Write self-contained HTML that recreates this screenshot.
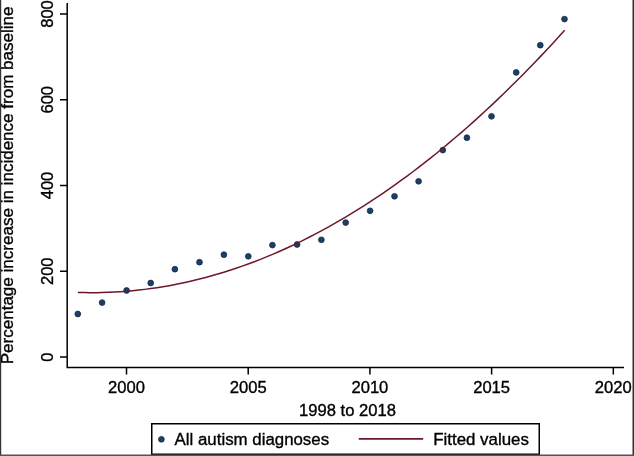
<!DOCTYPE html>
<html><head><meta charset="utf-8"><style>
html,body{margin:0;padding:0;background:#fff;}
body{width:634px;height:456px;overflow:hidden;position:relative;}
svg{position:absolute;left:0;top:0;will-change:transform;}
text{font-family:"Liberation Sans",sans-serif;fill:#000;stroke:#000;stroke-width:0.35px;}
</style></head><body>
<svg width="634" height="456" viewBox="0 0 634 456">
<rect x="0" y="0" width="634" height="456" fill="#fff"/>
<g stroke="#000" stroke-width="1.5" fill="none">
<polyline points="67.2,3 67.2,367.5 624,367.5"/>
<line x1="60" y1="357.00" x2="67" y2="357.00"/><line x1="60" y1="271.25" x2="67" y2="271.25"/><line x1="60" y1="185.50" x2="67" y2="185.50"/><line x1="60" y1="99.75" x2="67" y2="99.75"/><line x1="60" y1="14.00" x2="67" y2="14.00"/>
<line x1="126.50" y1="367" x2="126.50" y2="374.5"/><line x1="248.21" y1="367" x2="248.21" y2="374.5"/><line x1="369.91" y1="367" x2="369.91" y2="374.5"/><line x1="491.62" y1="367" x2="491.62" y2="374.5"/><line x1="613.32" y1="367" x2="613.32" y2="374.5"/>
</g>
<g font-size="16.6">
<text x="53" y="357.00" transform="rotate(-90 53 357.00)" text-anchor="middle">0</text><text x="53" y="271.25" transform="rotate(-90 53 271.25)" text-anchor="middle">200</text><text x="53" y="185.50" transform="rotate(-90 53 185.50)" text-anchor="middle">400</text><text x="53" y="99.75" transform="rotate(-90 53 99.75)" text-anchor="middle">600</text><text x="53" y="14.00" transform="rotate(-90 53 14.00)" text-anchor="middle">800</text>
<text x="126.50" y="393" text-anchor="middle">2000</text><text x="248.21" y="393" text-anchor="middle">2005</text><text x="369.91" y="393" text-anchor="middle">2010</text><text x="491.62" y="393" text-anchor="middle">2015</text><text x="613.32" y="393" text-anchor="middle">2020</text>
<text x="347.5" y="416" text-anchor="middle">1998 to 2018</text>
<text x="13.2" y="364.3" transform="rotate(-90 13.2 364.3)" font-size="17.05">Percentage increase in incidence from baseline</text>
</g>
<circle cx="77.8" cy="314.0" r="2.9" fill="#1d3f66" stroke="#122a48" stroke-width="0.75"/>
<circle cx="102.1" cy="302.6" r="2.9" fill="#1d3f66" stroke="#122a48" stroke-width="0.75"/>
<circle cx="126.6" cy="290.5" r="2.9" fill="#1d3f66" stroke="#122a48" stroke-width="0.75"/>
<circle cx="150.7" cy="283.0" r="2.9" fill="#1d3f66" stroke="#122a48" stroke-width="0.75"/>
<circle cx="174.9" cy="269.2" r="2.9" fill="#1d3f66" stroke="#122a48" stroke-width="0.75"/>
<circle cx="199.5" cy="262.2" r="2.9" fill="#1d3f66" stroke="#122a48" stroke-width="0.75"/>
<circle cx="223.9" cy="254.7" r="2.9" fill="#1d3f66" stroke="#122a48" stroke-width="0.75"/>
<circle cx="248.3" cy="256.3" r="2.9" fill="#1d3f66" stroke="#122a48" stroke-width="0.75"/>
<circle cx="272.4" cy="245.1" r="2.9" fill="#1d3f66" stroke="#122a48" stroke-width="0.75"/>
<circle cx="297.1" cy="244.5" r="2.9" fill="#1d3f66" stroke="#122a48" stroke-width="0.75"/>
<circle cx="321.4" cy="239.8" r="2.9" fill="#1d3f66" stroke="#122a48" stroke-width="0.75"/>
<circle cx="345.7" cy="222.6" r="2.9" fill="#1d3f66" stroke="#122a48" stroke-width="0.75"/>
<circle cx="370.1" cy="210.8" r="2.9" fill="#1d3f66" stroke="#122a48" stroke-width="0.75"/>
<circle cx="394.5" cy="196.3" r="2.9" fill="#1d3f66" stroke="#122a48" stroke-width="0.75"/>
<circle cx="418.6" cy="181.3" r="2.9" fill="#1d3f66" stroke="#122a48" stroke-width="0.75"/>
<circle cx="442.8" cy="150.1" r="2.9" fill="#1d3f66" stroke="#122a48" stroke-width="0.75"/>
<circle cx="466.9" cy="137.7" r="2.9" fill="#1d3f66" stroke="#122a48" stroke-width="0.75"/>
<circle cx="491.5" cy="116.3" r="2.9" fill="#1d3f66" stroke="#122a48" stroke-width="0.75"/>
<circle cx="516.2" cy="72.4" r="2.9" fill="#1d3f66" stroke="#122a48" stroke-width="0.75"/>
<circle cx="540.3" cy="45.2" r="2.9" fill="#1d3f66" stroke="#122a48" stroke-width="0.75"/>
<circle cx="564.5" cy="19.1" r="2.9" fill="#1d3f66" stroke="#122a48" stroke-width="0.75"/>
<polyline points="77.82,292.42 83.91,292.58 89.99,292.65 96.08,292.63 102.16,292.53 108.25,292.34 114.33,292.06 120.42,291.70 126.50,291.25 132.59,290.71 138.67,290.08 144.76,289.37 150.84,288.57 156.93,287.69 163.01,286.71 169.10,285.65 175.18,284.51 181.27,283.27 187.35,281.95 193.44,280.55 199.53,279.05 205.61,277.47 211.70,275.80 217.78,274.05 223.87,272.21 229.95,270.28 236.04,268.26 242.12,266.16 248.21,263.97 254.29,261.69 260.38,259.33 266.46,256.88 272.55,254.34 278.63,251.72 284.72,249.01 290.80,246.21 296.89,243.32 302.97,240.35 309.06,237.29 315.14,234.15 321.23,230.91 327.32,227.59 333.40,224.19 339.49,220.69 345.57,217.11 351.66,213.44 357.74,209.69 363.83,205.85 369.91,201.92 376.00,197.91 382.08,193.80 388.17,189.61 394.25,185.34 400.34,180.98 406.42,176.53 412.51,171.99 418.59,167.37 424.68,162.66 430.76,157.86 436.85,152.97 442.94,148.00 449.02,142.94 455.11,137.80 461.19,132.57 467.28,127.25 473.36,121.84 479.45,116.35 485.53,110.77 491.62,105.10 497.70,99.35 503.79,93.51 509.87,87.58 515.96,81.57 522.04,75.46 528.13,69.28 534.21,63.00 540.30,56.64 546.38,50.19 552.47,43.65 558.55,37.03 564.64,30.32" fill="none" stroke="#6c1828" stroke-width="1.5"/>
<rect x="151.75" y="423.75" width="387.5" height="30.5" fill="none" stroke="#000" stroke-width="1.5"/>
<circle cx="161.4" cy="439.3" r="2.9" fill="#1d3f66" stroke="#122a48" stroke-width="0.75"/>
<text x="174.6" y="445.1" font-size="16.85">All autism diagnoses</text>
<line x1="358.8" y1="438.9" x2="423.2" y2="438.9" stroke="#6c1828" stroke-width="1.6"/>
<text x="433.2" y="445.1" font-size="16.9">Fitted values</text>
<rect x="0" y="0" width="1.2" height="456" fill="#333"/>
<rect x="632.5" y="0" width="1.5" height="456" fill="#333"/>
<rect x="0" y="454.5" width="634" height="1.5" fill="#555"/>
</svg>
</body></html>
